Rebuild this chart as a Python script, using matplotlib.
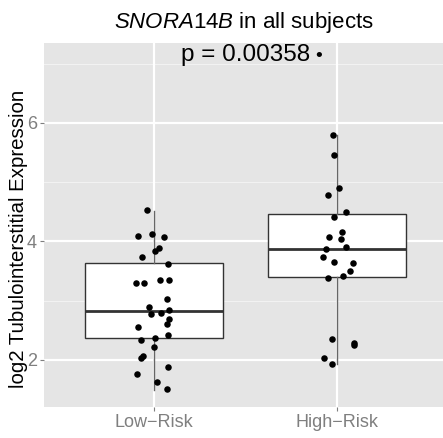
import numpy as np
import matplotlib
matplotlib.use("Agg")
from matplotlib import pyplot as plt

plt.rcParams["font.family"] = ["Liberation Sans", "DejaVu Sans"]
plt.rcParams["mathtext.fontset"] = "custom"
plt.rcParams["mathtext.it"] = "Liberation Sans:italic"
plt.rcParams["mathtext.rm"] = "Liberation Sans"

groups = ["Low\u2212Risk", "High\u2212Risk"]

# box statistics
q1 = [2.37, 3.40]
med = [2.83, 3.87]
q3 = [3.64, 4.46]
whislo = [1.50, 1.93]
whishi = [4.52, 5.79]

low_vals = [4.53, 4.10, 4.13, 4.08, 3.89, 3.84, 3.74, 3.62, 3.30, 3.30,
            3.35, 3.35, 3.03, 2.89, 2.84, 2.78, 2.80, 2.69, 2.60, 2.56,
            2.42, 2.34, 2.37, 2.22, 2.07, 2.03, 1.88, 1.77, 1.63, 1.51]
low_jit = [-0.037, -0.089, -0.013, 0.055, 0.027, 0.004, -0.066, 0.078, -0.098, -0.055,
           0.031, 0.084, 0.071, -0.026, 0.080, -0.015, 0.038, 0.084, 0.071, -0.089,
           0.078, -0.069, 0.007, 0.002, -0.058, -0.069, 0.075, -0.091, 0.016, 0.071]

high_vals = [5.80, 5.46, 4.90, 4.78, 4.50, 4.41, 4.16, 4.08, 4.04, 3.91, 3.87,
             3.74, 3.65, 3.64, 3.50, 3.42, 3.38, 2.35, 2.28, 2.25, 2.03, 1.93]
high_jit = [-0.020, -0.018, 0.011, -0.049, 0.048, -0.016, 0.027, -0.045, 0.022, 0.051, -0.060,
            -0.075, -0.018, 0.086, 0.069, 0.031, -0.049, -0.026, 0.095, 0.093, -0.069, -0.026]

p_text = "p = 0.00358"
p_y = 7.05

fig = plt.figure(figsize=(4.43, 4.38), dpi=100)
ax = fig.add_axes([44 / 443, 1 - 406.7 / 438, 1 - 44 / 443, (406.7 - 43) / 438])
ax.set_facecolor("#E5E5E5")

ax.set_xlim(0.399, 2.579)
ax.set_ylim(1.21, 7.35)

# grid
for y in [3, 5, 7]:
    ax.axhline(y, color="#F2F2F2", lw=0.8, zorder=0)
for y in [2, 4, 6]:
    ax.axhline(y, color="white", lw=1.6, zorder=0)
for x in [1, 2]:
    ax.axvline(x, color="white", lw=1.6, zorder=0)

stats = []
for i in range(2):
    stats.append(dict(q1=q1[i], med=med[i], q3=q3[i], whislo=whislo[i], whishi=whishi[i],
                      fliers=[], label=groups[i]))
ax.bxp(stats, positions=[1, 2], widths=0.75, showcaps=False, patch_artist=True,
       boxprops=dict(facecolor="white", edgecolor="#333333", lw=1.0),
       medianprops=dict(color="#333333", lw=2.0),
       whiskerprops=dict(color="#666666", lw=1.0), manage_ticks=False)

ax.scatter(1 + np.array(low_jit), low_vals, s=22, color="black", zorder=5, lw=0)
ax.scatter(2 + np.array(high_jit), high_vals, s=22, color="black", zorder=5, lw=0)

ax.text(1.5, p_y, p_text, ha="center", va="baseline", fontsize=17.5)
ax.annotate("\u2022", xy=(1.5, p_y), xytext=(53, 3), textcoords="offset points",
            ha="center", va="center", fontsize=14)

ax.set_xticks([1, 2])
ax.set_xticklabels(groups)
ax.set_yticks([2, 4, 6])
ax.tick_params(axis="both", colors="#7F7F7F", labelsize=13, length=3, width=0.8, pad=2)
for s in ax.spines.values():
    s.set_visible(False)

ax.set_ylabel("log2 Tubulointerstitial Expression", fontsize=14.7)
ax.yaxis.set_label_coords(-0.04, 0.4625)
ax.set_title(r"$\it{SNORA14B}$ in all subjects", fontsize=16, pad=11)

fig.savefig("out.png", dpi=100)
